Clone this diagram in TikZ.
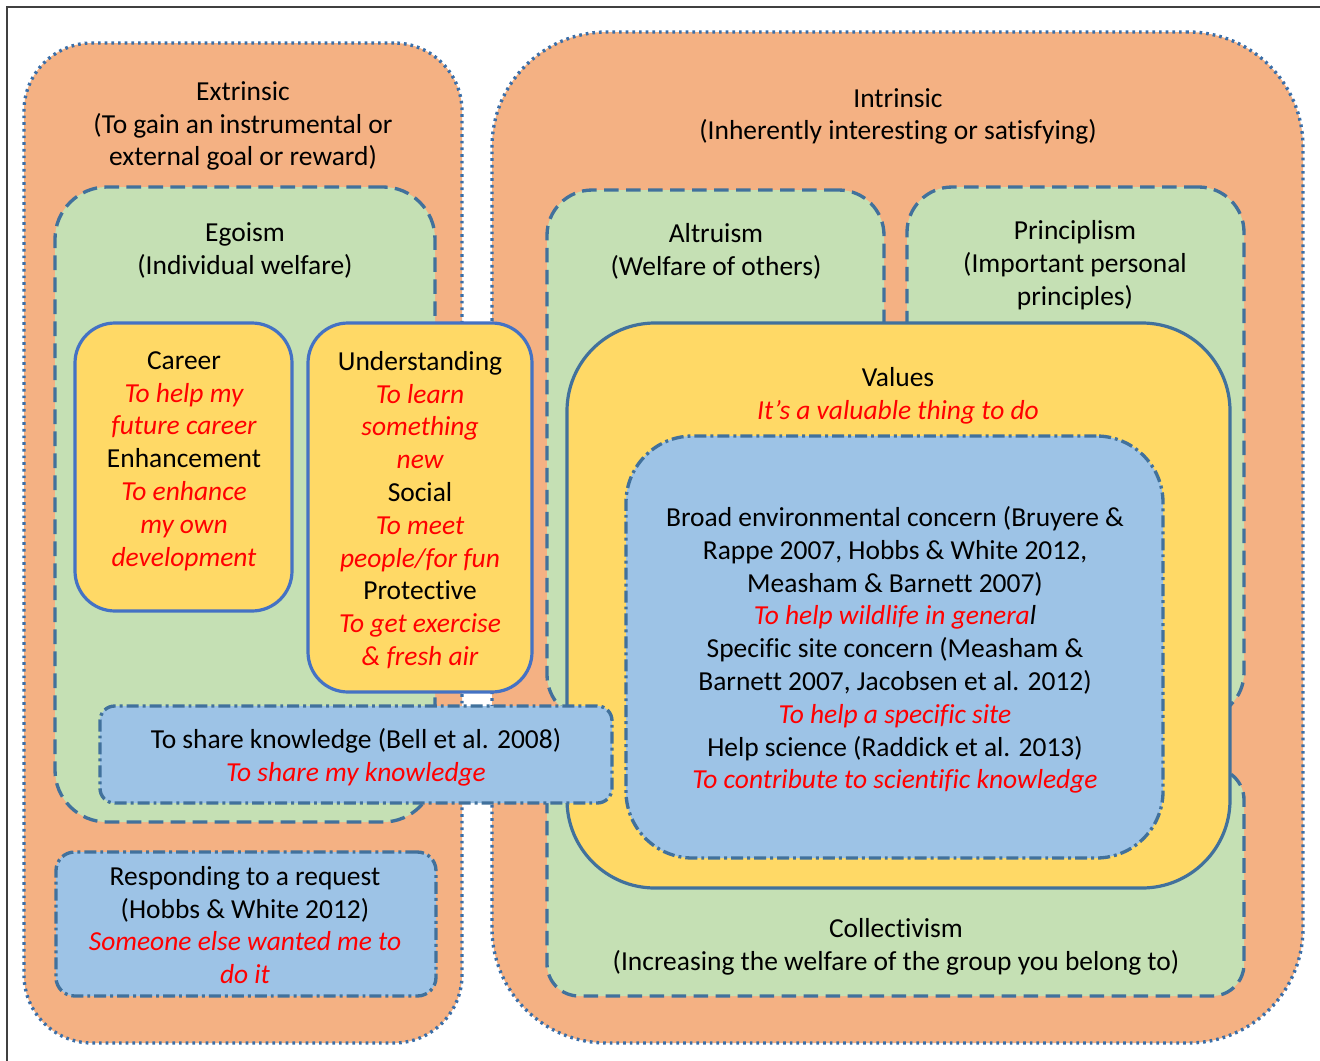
\documentclass[tikz,border=0pt]{standalone}
\usepackage{fontspec}
\setmainfont{Carlito}[Ligatures=NoCommon]
\usetikzlibrary{fit}
\definecolor{orgF}{HTML}{F4B183}
\definecolor{grnF}{HTML}{C5E0B4}
\definecolor{yelF}{HTML}{FFD966}
\definecolor{bluF}{HTML}{9DC3E6}
\definecolor{dashC}{HTML}{41719C}
\definecolor{solidC}{HTML}{4472C4}
\definecolor{dotC}{HTML}{3A6EA8}
\definecolor{frameC}{HTML}{404040}
\definecolor{redT}{HTML}{FF0000}
\newcommand\rd[1]{\textcolor{redT}{\itshape #1}}
\begin{document}
\begin{tikzpicture}[x=0.75pt,y=-0.75pt,
  txt/.style={align=center,inner sep=0pt,font=\fontsize{20.6}{24.6}\selectfont},
  boxbase/.style={inner sep=0pt,outer sep=0pt},
  outerbox/.style={boxbase,fill=orgF,draw=dotC,line width=2.5pt,dash pattern=on 2pt off 3pt},
  greenbox/.style={boxbase,fill=grnF,draw=dashC,line width=2.5pt,dash pattern=on 11pt off 5.5pt},
  yelbox/.style={boxbase,fill=yelF,draw=#1,line width=2.4pt},
  yelbox/.default=solidC,
  bluebox/.style={boxbase,fill=bluF,draw=dashC,line width=2.5pt,dash pattern=on 9pt off 3pt on 2.2pt off 3pt},
]
\useasboundingbox (0,0) rectangle (1320,1060);
\fill[white] (0,0) rectangle (1320,1060);
% frame
\coordinate (fa) at (7,1062);
\coordinate (fb) at (7,7);
\coordinate (fc) at (1322,7);
\draw[frameC,line width=1.1pt] (fa) -- (fb) -- (fc);

% outer boxes
\node[outerbox,rounded corners=51pt,fit={(24,43)(462,1043)}] (extrinsic) {};
\node[outerbox,rounded corners=86pt,fit={(492,32)(1303,1043)}] (intrinsic) {};

% green boxes
\node[greenbox,rounded corners=39pt,fit={(55,187)(435,822)}] (egoism) {};
\node[greenbox,rounded corners=24pt,fit={(547,768)(1244,996)}] (collect) {};
\node[greenbox,rounded corners=34pt,fit={(547,190)(884,720)}] (altruism) {};
\node[greenbox,rounded corners=34pt,fit={(907,187)(1244,718)}] (princ) {};

% yellow boxes
\node[yelbox,rounded corners=30pt,fit={(75,323)(292,611)}] (career) {};
\node[yelbox,rounded corners=30pt,fit={(308,323)(532,692)}] (underst) {};
\node[yelbox=dashC,rounded corners=66pt,fit={(567,323)(1230,888)}] (values) {};

% blue boxes
\node[bluebox,rounded corners=50pt,fit={(626,436)(1163,858)}] (broad) {};
\node[bluebox,rounded corners=11pt,fit={(100,706)(612,803)}] (share) {};
\node[bluebox,rounded corners=14pt,fit={(56,852)(436,996)}] (respond) {};

% texts
\node[txt] (t_ext) at (243,126) {Extrinsic\\(To gain an instrumental or\\external goal or reward)};
\node[txt] (t_int) at (898,116.5) {Intrinsic\\(Inherently interesting or satisfying)};
\node[txt] (t_ego) at (245,250.5) {Egoism\\(Individual welfare)};
\node[txt] (t_alt) at (716,251.5) {Altruism\\(Welfare of others)};
\node[txt] (t_pri) at (1075,265) {Principlism\\(Important personal\\principles)};
\node[txt] (t_car) at (184,461) {Career\\\rd{To help my}\\\rd{future career}\\Enhancement\\\rd{To enhance}\\\rd{my own}\\\rd{development}};
\node[txt] (t_und) at (420,510) {Understanding\\\rd{To learn}\\\rd{something}\\\rd{new}\\Social\\\rd{To meet}\\\rd{people/for fun}\\Protective\\\rd{To get exercise}\\\rd{\& fresh air}};
\node[txt] (t_val) at (898,395.5) {Values\\\rd{It’s a valuable thing to do}};
\node[txt] (t_broad) at (895,650) {Broad environmental concern (Bruyere \&\\Rappe 2007, Hobbs \& White 2012,\\Measham \& Barnett 2007)\\\rd{To help wildlife in genera}{\itshape l}\\Specific site concern (Measham \&\\Barnett 2007, Jacobsen et al. 2012)\\\rd{To help a specific site}\\Help science (Raddick et al. 2013)\\\rd{To contribute to scientific knowledge}};
\node[txt] (t_col) at (896,946.5) {Collectivism\\(Increasing the welfare of the group you belong to)};
\node[txt] (t_share) at (356,757.5) {To share knowledge (Bell et al. 2008)\\\rd{To share my knowledge}};
\node[txt] (t_resp) at (245,925) {Responding to a request\\(Hobbs \& White 2012)\\\rd{Someone else wanted me to}\\\rd{do it}};
\end{tikzpicture}
\end{document}
